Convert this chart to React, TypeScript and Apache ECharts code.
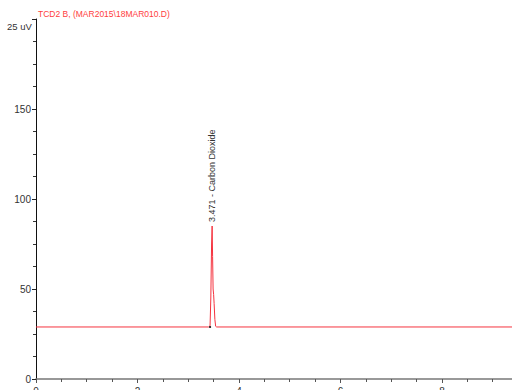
import React, { useEffect, useRef } from "react";
import * as echarts from "echarts";

const title = "TCD2 B, (MAR2015\\18MAR010.D)";
const yUnitLabel = "25 uV";
const peakLabel = "3.471 - Carbon Dioxide";
const peakTime = 3.471;
const peakHeight = 85;
const baselineMarkTimes = [3.43];
const baselineLevel = 28.9;
// retention time (min) and signal (uV)
const times = [0, 3.4, 3.43, 3.445, 3.46, 3.471, 3.48, 3.49, 3.5, 3.51, 3.525, 3.54, 3.56, 9.4];
const signal = [28.9, 28.9, 29.5, 45, 75, 85, 68, 50, 47, 42, 33, 29.3, 28.9, 28.9];

const FONT = "'Liberation Sans', Arial, sans-serif";

export default function App() {
  const ref = useRef<HTMLDivElement>(null);
  useEffect(() => {
    if (!ref.current) return;
    const chart = echarts.init(ref.current, null, { renderer: "svg" });
    const data = times.map((t, i) => [t, signal[i]]);
    chart.setOption({
      animation: false,
      backgroundColor: "#ffffff",
      grid: { left: 36, top: 19, right: 0, bottom: 11, containLabel: false, outerBoundsMode: "none" },
      xAxis: {
        type: "value",
        min: 0,
        max: 9.38,
        interval: 2,
        axisLine: { show: true, lineStyle: { color: "#777777", width: 1.5 } },
        axisTick: { show: true, length: 4, lineStyle: { color: "#555555" } },
        minorTick: { show: true, splitNumber: 4, length: 3, lineStyle: { color: "#555555" } },
        splitLine: { show: false },
        axisLabel: { show: true, color: "#333333", fontSize: 10, fontFamily: FONT, margin: 7, showMaxLabel: false },
      },
      yAxis: {
        type: "value",
        min: 0,
        max: 200,
        interval: 50,
        axisLine: { show: true, lineStyle: { color: "#111111", width: 1 } },
        axisTick: { show: true, length: 4, lineStyle: { color: "#222222" } },
        minorTick: { show: true, splitNumber: 4, length: 3, lineStyle: { color: "#333333" } },
        splitLine: { show: false },
        axisLabel: {
          color: "#333333",
          fontSize: 10,
          fontFamily: FONT,
          margin: 5,
          formatter: (v: number) => (v >= 200 ? "" : String(v)),
        },
      },
      graphic: [
        {
          type: "text",
          left: 38,
          top: 9,
          style: { text: title, fill: "#ff3d3d", fontSize: 8.5, fontFamily: FONT },
        },
        {
          type: "text",
          left: 7,
          top: 21,
          style: { text: yUnitLabel, fill: "#333333", fontSize: 9.5, fontFamily: FONT },
        },
      ],
      series: [
        {
          type: "line",
          data,
          showSymbol: false,
          symbol: "none",
          lineStyle: { color: "#f5333f", width: 1 },
          markPoint: {
            symbol: "circle",
            symbolSize: 0,
            data: [
              {
                coord: [peakTime, peakHeight],
                label: {
                  show: true,
                  position: "top",
                  distance: 4,
                  rotate: 90,
                  align: "left",
                  verticalAlign: "middle",
                  formatter: peakLabel,
                  color: "#333333",
                  fontSize: 9,
                  fontFamily: FONT,
                },
              },
              ...baselineMarkTimes.map((t) => ({
                coord: [t, baselineLevel],
                symbol: "rect",
                symbolSize: [2, 2],
                itemStyle: { color: "#333333" },
                label: { show: false },
              })),
            ],
          },
        },
      ],
    });
    return () => chart.dispose();
  }, []);
  return <div ref={ref} style={{ position: "fixed", left: 0, top: 0, width: 512, height: 390 }} />;
}
